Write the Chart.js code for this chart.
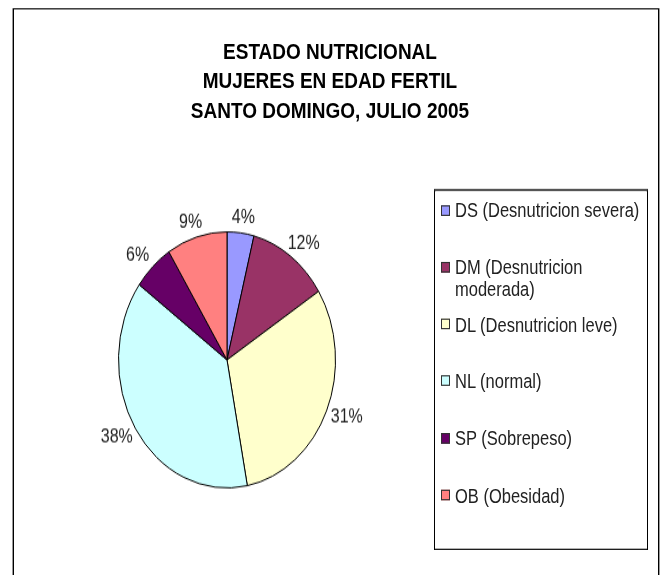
<!DOCTYPE html>
<html lang="es">
<head>
<meta charset="utf-8">
<title>Estado nutricional</title>
<script src="https://cdn.jsdelivr.net/npm/chart.js@4.4.1/dist/chart.umd.min.js"></script>
<style>
  html, body { margin: 0; padding: 0; background: #fff; overflow: hidden; }
  body { width: 665px; height: 575px; }
  /* La imagen original está estirada en vertical: se dibuja en coordenadas
     "lógicas" y se estira todo el lienzo con scaleY */
  #stage {
    position: absolute; left: 0; top: 0;
    width: 665px; height: 500px;
    transform: scaleY(1.18); transform-origin: 0 0;
    font-family: 'Liberation Sans', Arial, sans-serif;
  }
  #frame {
    position: absolute; left: 13px; top: 7px; width: 644px; height: 520px;
    border: 1px solid #000; box-shadow: -1px 0 0 #999, 1px 0 0 #999;
  }
  #title {
    position: absolute; left: 130px; top: 31px; width: 400px;
    text-align: center; font-weight: bold; font-size: 19px; line-height: 25px; color: #000;
  }
  #pie { position: absolute; left: 0; top: 150px; }
  #legend {
    position: absolute; left: 434px; top: 160px; width: 212px; height: 303px;
    border: 1px solid #000; border-top: 2px solid #555;
  }
  .item { position: absolute; left: 0; font-size: 16.5px; line-height: 18.6px; color: #222; }
  .item .box {
    position: absolute; left: 6px; top: 4.6px; width: 7px; height: 7px;
    border: 1px solid #333;
  }
  .item .txt { position: absolute; left: 20px; top: 0; width: 192px; }
</style>
</head>
<body>
<div id="stage">
  <div id="frame"></div>
  <div id="title"></div>
  <canvas id="pie" width="420" height="320" style="width:420px;height:320px"></canvas>
  <div id="legend"></div>
</div>
<script>
// --- Datos ---
const TITLE_LINES = ['ESTADO NUTRICIONAL', 'MUJERES EN EDAD FERTIL', 'SANTO DOMINGO, JULIO 2005'];
const CATEGORIES = [
  'DS (Desnutricion severa)',
  'DM (Desnutricion moderada)',
  'DL (Desnutricion leve)',
  'NL (normal)',
  'SP (Sobrepeso)',
  'OB (Obesidad)',
];
const PERCENTS = [4, 12, 31, 38, 6, 9];
const COLORS = ['#9999FF', '#993366', '#FFFFCC', '#CCFFFF', '#660066', '#FF8080'];

const LABEL_FONT = "16px 'Liberation Sans', Arial, sans-serif";
const LABEL_GAP_X = 22;    // separación horizontal de la etiqueta respecto al borde
const LABEL_GAP_Y = 13;    // separación vertical (coordenadas lógicas)
const LEGEND_STEP = 48.3;  // separación vertical entre entradas de la leyenda

// Título
document.getElementById('title').innerHTML = TITLE_LINES.map(t => `<div>${t}</div>`).join('');

// Leyenda (HTML, generada desde las mismas listas)
const legendEl = document.getElementById('legend');
CATEGORIES.forEach((label, i) => {
  const item = document.createElement('div');
  item.className = 'item';
  item.style.top = (7 + i * LEGEND_STEP) + 'px';
  item.style.width = '212px';
  item.innerHTML = `<span class="box" style="background:${COLORS[i]}"></span><span class="txt">${label}</span>`;
  legendEl.appendChild(item);
});

// Etiquetas de porcentaje fuera de cada sector
const outsideLabels = {
  id: 'outsideLabels',
  afterDatasetsDraw(chart) {
    const ctx = chart.ctx;
    const meta = chart.getDatasetMeta(0);
    ctx.save();
    ctx.font = LABEL_FONT;
    ctx.fillStyle = '#222';
    ctx.textAlign = 'center';
    ctx.textBaseline = 'middle';
    meta.data.forEach((arc, i) => {
      const { x, y, startAngle, endAngle, outerRadius } =
        arc.getProps(['x', 'y', 'startAngle', 'endAngle', 'outerRadius'], true);
      const mid = (startAngle + endAngle) / 2;
      const px = x + Math.cos(mid) * (outerRadius + LABEL_GAP_X);
      const py = y + Math.sin(mid) * (outerRadius + LABEL_GAP_Y);
      ctx.fillText(PERCENTS[i] + '%', px, py);
    });
    ctx.restore();
  },
};

new Chart(document.getElementById('pie').getContext('2d'), {
  type: 'pie',
  data: {
    labels: CATEGORIES,
    datasets: [{
      data: PERCENTS,
      backgroundColor: COLORS,
      borderColor: '#000',
      borderWidth: 1,
      hoverOffset: 0,
      offset: 0,
      clip: false,
    }],
  },
  options: {
    responsive: false,
    animation: false,
    events: [],
    layout: { padding: { left: 118, right: 84, top: 46, bottom: 56 } },
    plugins: {
      legend: { display: false },
      title: { display: false },
      tooltip: { enabled: false },
    },
  },
  plugins: [outsideLabels],
});
</script>
</body>
</html>
